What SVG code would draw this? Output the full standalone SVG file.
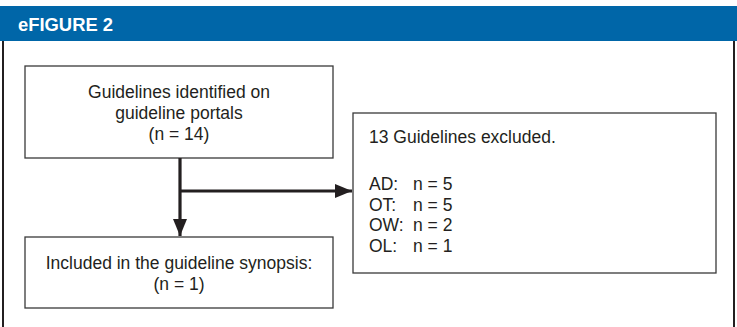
<svg xmlns="http://www.w3.org/2000/svg" width="737" height="327" viewBox="0 0 737 327">
<style>
.box{fill:#fff;stroke:#3a3a3a;stroke-width:1.3}
.t{font-family:"Liberation Sans",Arial,sans-serif;font-size:17.5px;fill:#231f20}
.c{text-anchor:middle}
.conn{stroke:#231f20;stroke-width:3.2;fill:none}
</style>
<defs>
<marker id="ah" markerUnits="userSpaceOnUse" markerWidth="18" markerHeight="14" refX="17" refY="7" orient="auto">
<path d="M0,0 L17,7 L0,14 Z" fill="#231f20"/>
</marker>
</defs>
<rect width="737" height="327" fill="#fff"/>
<g id="header">
<rect x="0" y="6" width="737" height="35" fill="#0066a8"/>
<text x="18" y="31" font-family="'Liberation Sans',Arial,sans-serif" font-weight="bold" font-size="18" fill="#fff" textLength="95" lengthAdjust="spacingAndGlyphs">eFIGURE 2</text>
</g>
<g id="frame" stroke="#231f20" stroke-width="2">
<line x1="3" y1="41" x2="3" y2="327"/>
<line x1="734" y1="41" x2="734" y2="327"/>
</g>
<g id="n1">
<rect class="box" x="25" y="66" width="308" height="92"/>
<text class="t c" x="179" y="98">Guidelines identified on</text>
<text class="t c" x="179" y="119">guideline portals</text>
<text class="t c" x="179" y="140">(n = 14)</text>
</g>
<g id="n2">
<rect class="box" x="25" y="237" width="308" height="71"/>
<text class="t c" x="179" y="269">Included in the guideline synopsis:</text>
<text class="t c" x="179" y="290">(n = 1)</text>
</g>
<g id="n3">
<rect class="box" x="353" y="113" width="363" height="160"/>
<text class="t" x="369" y="143">13 Guidelines excluded.</text>
<text class="t" x="369" y="190">AD:</text><text class="t" x="413" y="190">n = 5</text>
<text class="t" x="369" y="211">OT:</text><text class="t" x="413" y="211">n = 5</text>
<text class="t" x="369" y="231">OW:</text><text class="t" x="413" y="231">n = 2</text>
<text class="t" x="369" y="252">OL:</text><text class="t" x="413" y="252">n = 1</text>
</g>
<g id="connectors">
<line class="conn" x1="180" y1="158" x2="180" y2="236" marker-end="url(#ah)"/>
<line class="conn" x1="180" y1="191" x2="352" y2="191" marker-end="url(#ah)"/>
</g>
</svg>
